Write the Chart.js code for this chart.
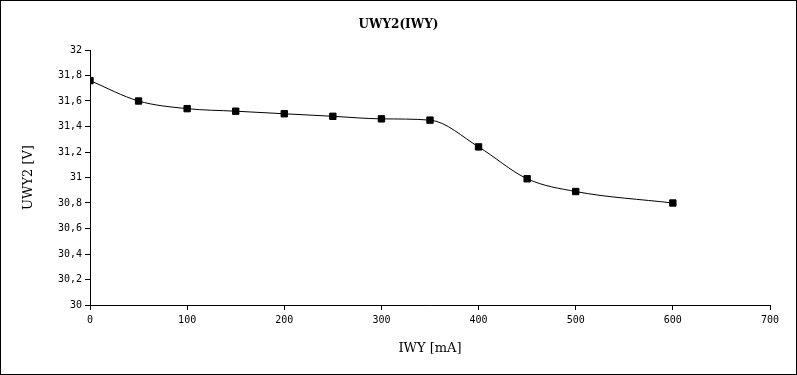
<!DOCTYPE html>
<html>
<head>
<meta charset="utf-8">
<script src="https://cdn.jsdelivr.net/npm/chart.js@4/dist/chart.umd.min.js"></script>
<style>
    html, body { margin: 0; padding: 0; background: #fff; }
    #frame {
        width: 797px; height: 375px;
        box-sizing: border-box;
        border: 1px solid #000;
        background: #fff;
    }
    #chart { display: block; }
</style>
</head>
<body>
<div id="frame"><canvas id="chart" width="795" height="373"></canvas></div>
<script>
// Measured points: current IWY [mA] vs voltage UWY2 [V]
const currentMA = [0, 50, 100, 150, 200, 250, 300, 350, 400, 450, 500, 600];
const voltageV = [31.76, 31.60, 31.54, 31.52, 31.50, 31.48, 31.46, 31.45, 31.24, 30.99, 30.89, 30.80];

// Axis ticks as printed on the chart
const xTickValues = [0, 100, 200, 300, 400, 500, 600, 700];
const yTickValues = [30, 30.2, 30.4, 30.6, 30.8, 31, 31.2, 31.4, 31.6, 31.8, 32];

const serif = "'DejaVu Serif', serif";
const mono = "'DejaVu Sans Mono', monospace";

function commaNumber(v) {
    return String(Math.round(v * 10) / 10).replace('.', ',');
}

const points = currentMA.map((x, i) => ({ x: x, y: voltageV[i] }));

const ctx = document.getElementById('chart').getContext('2d');
new Chart(ctx, {
    type: 'line',
    data: {
        datasets: [{
            label: 'UWY2',
            data: points,
            borderColor: '#000',
            borderWidth: 1,
            backgroundColor: '#000',
            fill: false,
            cubicInterpolationMode: 'monotone',
            pointStyle: 'rect',
            pointRadius: 4.5,
            pointBorderWidth: 1,
            pointBorderColor: '#000',
            pointBackgroundColor: '#000'
        }]
    },
    options: {
        responsive: false,
        animation: false,
        layout: { padding: 0 },
        plugins: {
            legend: { display: false },
            tooltip: { enabled: false },
            title: {
                display: true,
                text: 'UWY2(IWY)',
                color: '#000',
                font: { family: serif, size: 12, weight: 'bold' },
                padding: { top: 17, bottom: 17.6 }
            }
        },
        scales: {
            x: {
                type: 'linear',
                min: 0,
                max: 700,
                afterBuildTicks: scale => { scale.ticks = xTickValues.map(v => ({ value: v })); },
                afterFit: scale => { scale.height = 69; },
                grid: {
                    drawOnChartArea: false,
                    drawTicks: true,
                    tickLength: 5,
                    color: '#000'
                },
                border: { display: true, color: '#000', width: 1 },
                ticks: {
                    color: '#000',
                    padding: 4,
                    maxRotation: 0,
                    font: { family: mono, size: 10 },
                    callback: v => String(v)
                },
                title: {
                    display: true,
                    text: 'IWY [mA]',
                    color: '#000',
                    font: { family: serif, size: 13 },
                    padding: { top: 0, bottom: 18 }
                }
            },
            y: {
                min: 30,
                max: 32,
                afterBuildTicks: scale => { scale.ticks = yTickValues.map(v => ({ value: v })); },
                afterFit: scale => { scale.width = 89; },
                grid: {
                    drawOnChartArea: false,
                    drawTicks: true,
                    tickLength: 5,
                    color: '#000'
                },
                border: { display: true, color: '#000', width: 1 },
                ticks: {
                    color: '#000',
                    padding: 3,
                    font: { family: mono, size: 10 },
                    callback: v => commaNumber(v)
                },
                title: {
                    display: true,
                    text: 'UWY2 [V]',
                    color: '#000',
                    font: { family: serif, size: 13 },
                    padding: { top: 20, bottom: 0 }
                }
            },
            // empty right-hand strip so the plot ends at 700 while the title stays centred
            spacer: {
                type: 'linear',
                position: 'right',
                display: true,
                min: 30,
                max: 32,
                afterFit: scale => { scale.width = 26; },
                grid: { display: false },
                border: { display: false },
                ticks: { display: false }
            }
        }
    }
});
</script>
</body>
</html>
